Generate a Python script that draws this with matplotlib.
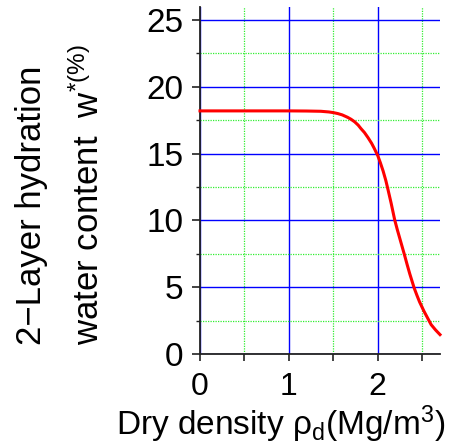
import matplotlib
matplotlib.use('Agg')
import matplotlib.pyplot as plt
from matplotlib.ticker import MultipleLocator

plt.rcParams['font.family'] = ['Liberation Sans', 'DejaVu Sans']
plt.rcParams['mathtext.fontset'] = 'custom'
plt.rcParams['mathtext.rm'] = 'Liberation Sans'
plt.rcParams['mathtext.it'] = 'Liberation Sans:italic'

density = [0.0, 0.5, 1.0, 1.2, 1.36, 1.45, 1.5, 1.55, 1.6, 1.66, 1.70, 1.74, 1.78, 1.81,
           1.85, 1.89, 1.93, 1.96, 2.0, 2.03, 2.06, 2.09, 2.11, 2.15, 2.19, 2.22, 2.25,
           2.30, 2.33, 2.36, 2.41, 2.44, 2.47, 2.52, 2.56, 2.60, 2.65, 2.70]
water = [18.2, 18.2, 18.2, 18.19, 18.17, 18.12, 18.07, 18.0, 17.9, 17.72, 17.57, 17.38,
         17.13, 16.88, 16.58, 16.2, 15.78, 15.4, 14.85, 14.3, 13.7, 13.0, 12.45, 11.3,
         10.05, 9.3, 8.6, 7.43, 6.7, 6.0, 4.93, 4.4, 3.9, 3.2, 2.7, 2.2, 1.8, 1.45]

xticks = [0, 1, 2]
yticks = [0, 5, 10, 15, 20, 25]

fig = plt.figure(figsize=(4.63, 4.45), dpi=100)
ax = fig.add_axes([200/463, (445-354)/445, 240/463, (354-6.7)/445])

ax.plot(density, water, color='red', lw=2.2, zorder=5, clip_on=False,
        solid_joinstyle='round')

ax.set_xlim(0, 2.7)
ax.set_ylim(0, 26)
ax.xaxis.set_minor_locator(MultipleLocator(0.5))
ax.yaxis.set_minor_locator(MultipleLocator(2.5))
ax.set_xticks(xticks)
ax.set_yticks(yticks)

ax.grid(which='major', color='#0000ff', lw=1.0)
ax.grid(which='minor', color='#33ee33', lw=0.9, ls=(0, (1, 1)))
ax.set_axisbelow(True)

for s in ['top', 'right']:
    ax.spines[s].set_visible(False)
for s in ['left', 'bottom']:
    ax.spines[s].set_color('#222222')
    ax.spines[s].set_linewidth(1.3)

ax.tick_params(axis='x', which='both', direction='out', length=5, width=1.2,
               labelsize=23, pad=8, color='#222222')
ax.tick_params(axis='y', which='major', direction='out', length=6, width=1.2,
               labelsize=24, pad=6, color='#222222')
ax.tick_params(axis='y', which='minor', direction='out', length=3, width=1.0,
               color='#222222')

fig.text(32/463, (445-345)/445, '2\u2212Layer hydration', rotation=90,
         ha='center', va='bottom', fontsize=25)
fig.text(88/463, (445-345)/445, r'water content  w$^{*(\%)}$', rotation=90,
         ha='center', va='bottom', fontsize=25)
fig.text(281/463, (445-435)/445, r'Dry density ρ$_\mathrm{d}$(Mg/m$^3$)',
         ha='center', va='baseline', fontsize=24)

fig.savefig('out.png', dpi=100)
